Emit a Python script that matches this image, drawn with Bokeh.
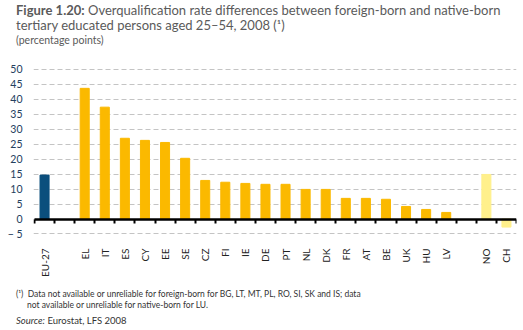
import math
from bokeh.plotting import figure
from bokeh.layouts import column
from bokeh.models import Range1d, LinearAxis, FixedTicker, ColumnDataSource, CustomJSTickFormatter, Div
from bokeh.embed import file_html
from bokeh.resources import INLINE

# ---- data ----
countries = ["EU-27", "EL", "IT", "ES", "CY", "EE", "SE", "CZ", "FI", "IE", "DE",
             "PT", "NL", "DK", "FR", "AT", "BE", "UK", "HU", "LV", "NO", "CH"]
values = [14.7, 43.7, 37.4, 27.0, 26.3, 25.6, 20.3, 12.9, 12.3, 11.9, 11.6,
          11.6, 9.9, 9.9, 6.9, 6.9, 6.6, 4.2, 3.2, 2.2, 14.9, -2.7]
groups = ["EU"] + ["member"] * 19 + ["other"] * 2
yticks = [-5, 0, 5, 10, 15, 20, 25, 30, 35, 40, 45, 50]
ytick_labels = {-5: "\u2212 5"}

title_bold = "Figure 1.20:"
title_rest = "Overqualification rate differences between foreign-born and native-born"
title_line2 = "tertiary educated persons aged 25\u201354, 2008 (\u00b9)"
subtitle = "(percentage points)"
note_mark = "(\u00b9)"
note1 = "Data not available or unreliable for foreign-born for BG, LT, MT, PL, RO, SI, SK and IS; data"
note2 = "not available or unreliable for native-born for LU."
source_label = "Source:"
source_text = "Eurostat, LFS 2008"

palette = {"EU": "#0b4f7d", "member": "#fbb900", "other": "#fff08c"}

# slot positions: one empty slot between groups
slots = []
pos = 0
for i, g in enumerate(groups):
    if i > 0 and g != groups[i - 1]:
        pos += 1
    slots.append(pos)
    pos += 1
n_slots = pos

src = ColumnDataSource(dict(x=slots, top=values, name=countries,
                            color=[palette[g] for g in groups]))

FONT = "Lato"
W = 523
TOP_H = 50
FIG_H = 238
BOT_H = 330 - TOP_H - FIG_H

p = figure(width=W, height=FIG_H, output_backend="svg", toolbar_location=None,
           x_range=Range1d(-0.55, n_slots - 0.5), y_range=Range1d(-5.85, 51.0),
           x_axis_location=None, min_border_left=33, min_border_right=7,
           min_border_top=16, min_border_bottom=52)
p.outline_line_color = None
p.background_fill_color = "white"
p.border_fill_color = "white"

p.vbar(x="x", top="top", bottom=0, width=0.45, color="color", source=src)

# y axis
ya = p.yaxis[0]
ya.ticker = FixedTicker(ticks=yticks)
ya.major_label_overrides = ytick_labels
ya.axis_line_color = None
ya.major_tick_line_color = None
ya.minor_tick_line_color = None
ya.major_label_text_font = FONT
ya.major_label_text_font_size = "10.5px"
ya.major_label_text_color = "#24405e"
ya.major_label_standoff = 5

p.xgrid.visible = False
p.ygrid[0].ticker = FixedTicker(ticks=yticks)
p.ygrid.grid_line_color = "#c4c4c4"
p.ygrid.grid_line_dash = "5 3"
p.ygrid.grid_line_width = 1

# category label axis
lab_ax = LinearAxis(ticker=FixedTicker(ticks=slots),
                    major_label_overrides={s: c for s, c in zip(slots, countries)},
                    axis_line_color=None, major_tick_line_color=None,
                    minor_tick_line_color=None,
                    major_label_orientation=math.pi / 2,
                    major_label_standoff=6,
                    major_label_text_font=FONT,
                    major_label_text_font_size="10px",
                    major_label_text_color="#222222")
p.add_layout(lab_ax, "below")

# zero axis with slot boundary ticks
zero_ax = LinearAxis(fixed_location=0,
                     ticker=FixedTicker(ticks=[i - 0.5 for i in range(n_slots + 1)]),
                     formatter=CustomJSTickFormatter(code="return ''"),
                     bounds=(-0.5, n_slots - 0.5),
                     axis_line_color="black", axis_line_width=2.5,
                     major_tick_out=4, major_tick_in=0,
                     major_tick_line_width=2, major_tick_line_color="black",
                     minor_tick_line_color=None)
p.add_layout(zero_ax, "below")

TITLE_C = "#5a5a5a"
title_div = Div(
    text=(f"<div style='font-size:13px;line-height:15px;color:{TITLE_C}'>"
          f"<b>{title_bold}</b> {title_rest}<br>{title_line2}</div>"
          f"<div style='font-size:10.5px;line-height:14px;color:{TITLE_C}'>{subtitle}</div>"),
    width=W, height=TOP_H, margin=(0, 0, 0, 0),
    styles={"font-family": FONT, "padding-left": "16px", "padding-top": "3px",
            "box-sizing": "border-box", "white-space": "nowrap"})

foot_div = Div(
    text=(f"<div style='font-size:8.5px;line-height:11px;color:#333;padding-left:11px;text-indent:-11px'>"
          f"{note_mark}&nbsp;&nbsp;{note1}<br>{note2}</div>"
          f"<div style='font-size:9.5px;line-height:12px;color:#333;margin-top:4px'>"
          f"<i>{source_label}</i> {source_text}</div>"),
    width=W, height=BOT_H, margin=(0, 0, 0, 0),
    styles={"font-family": FONT, "padding-left": "16px", "padding-top": "1px",
            "box-sizing": "border-box", "white-space": "nowrap"})

layout = column(title_div, p, foot_div, spacing=0, margin=(0, 0, 0, 0))

open("out.html", "w").write(file_html(layout, INLINE))
